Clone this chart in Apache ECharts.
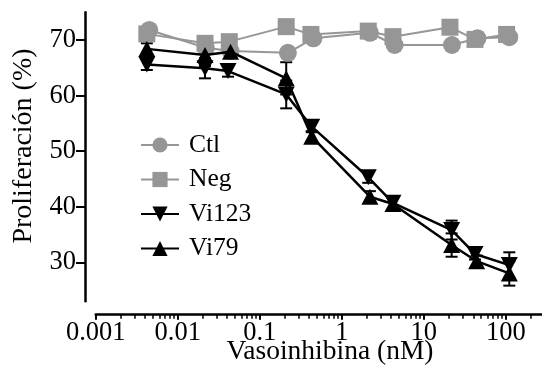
<!DOCTYPE html>
<html><head><meta charset="utf-8">
<script src="https://cdn.jsdelivr.net/npm/echarts@6/dist/echarts.min.js"></script>
<style>html,body{margin:0;padding:0;background:#fff}#c{width:542px;height:377px}</style>
</head><body><div id="c"></div>
<script>
const seriesNames = ['Ctl', 'Neg', 'Vi123', 'Vi79'];
const ctlConc = [0.0045, 0.022, 0.044, 0.22, 0.45, 2.2, 4.4, 22, 45, 110];
const ctlValues = [71.8, 68.6, 68.0, 67.7, 70.3, 71.3, 69.1, 69.1, 70.3, 70.5];
const negConc = [0.0042, 0.0215, 0.0425, 0.21, 0.42, 2.1, 4.2, 20.8, 42, 102];
const negValues = [71.1, 69.4, 69.7, 72.4, 71.0, 71.6, 70.6, 72.3, 70.1, 71.0];
const vi123Conc = [0.0042, 0.0215, 0.041, 0.21, 0.43, 2.1, 4.2, 21.8, 42, 110];
const vi123Values = [65.6, 64.9, 64.4, 60.2, 54.4, 45.3, 40.7, 35.8, 31.5, 29.5];
const vi123Err = [1.0, 1.8, 1.0, 2.5, 1.0, 1.0, 1.0, 1.7, 1.0, 2.3];
const vi79Conc = [0.0042, 0.0215, 0.044, 0.21, 0.43, 2.2, 4.2, 21.8, 44, 110];
const vi79Values = [68.4, 67.3, 67.9, 63.1, 52.6, 41.8, 40.5, 33.1, 30.2, 28.0];
const vi79Err = [1.0, 2.0, 1.0, 2.9, 1.0, 1.0, 1.0, 2.1, 1.0, 2.2];
const xTickValues = [0.001, 0.01, 0.1, 1, 10, 100];
const xTickLabels = ['0.001', '0.01', '0.1', '1', '10', '100'];
const yTickValues = [30, 40, 50, 60, 70];
const xTitle = 'Vasoinhibina (nM)';
const yTitle = 'Proliferación (%)';

const FONT = 'Liberation Serif';
const GRAY = '#969696';
const X_MIN = -3, X_MAX = 2.44, Y_MIN = 23, Y_MAX = 75;

const lg = v => Math.log10(v);
const pts = (xs, ys) => xs.map((x, i) => [lg(x), ys[i]]);
const errPts = (xs, ys, es) => xs.map((x, i) => [lg(x), ys[i], es[i]]);

const minorTicks = [];
xTickValues.forEach(d => { for (let m = 2; m <= 9; m++) { const v = lg(d * m); if (v <= X_MAX) minorTicks.push(v); } });
const majorTicks = xTickValues.map(lg);

function errorItem(params, api) {
  const x = api.value(0), y = api.value(1), e = api.value(2);
  const top = api.coord([x, y + e]);
  const bot = api.coord([x, y - e]);
  const hw = 6;
  const st = { stroke: '#000', lineWidth: 2 };
  return { type: 'group', children: [
    { type: 'line', shape: { x1: top[0], y1: top[1], x2: bot[0], y2: bot[1] }, style: st },
    { type: 'line', shape: { x1: top[0] - hw, y1: top[1], x2: top[0] + hw, y2: top[1] }, style: st },
    { type: 'line', shape: { x1: bot[0] - hw, y1: bot[1], x2: bot[0] + hw, y2: bot[1] }, style: st }
  ]};
}

const chart = echarts.init(document.getElementById('c'), null, { renderer: 'canvas' });
const labelStyle = { fontFamily: FONT, fontSize: 26.5, color: '#000' };
chart.setOption({
  animation: false,
  backgroundColor: '#fff',
  textStyle: { fontFamily: FONT },
  grid: { left: 95.7, right: 0, top: 12.2, bottom: 75.8, containLabel: false },
  legend: {
    data: seriesNames,
    orient: 'vertical',
    left: 140, top: 132, padding: 0,
    itemWidth: 38, itemHeight: 19, itemGap: 8.5,
    textStyle: { fontFamily: FONT, fontSize: 25.5, color: '#000', padding: [0, 0, 0, 5] }
  },
  graphic: [
    { type: 'text', x: 24, y: 146, rotation: Math.PI / 2, silent: true,
      style: { text: yTitle, fontFamily: FONT, fontSize: 28, fill: '#000', align: 'center', verticalAlign: 'middle' } },
    { type: 'text', x: 330, y: 352, silent: true,
      style: { text: xTitle, fontFamily: FONT, fontSize: 27.5, fill: '#000', align: 'center', verticalAlign: 'middle' } }
  ],
  xAxis: [{
    type: 'value', min: X_MIN, max: X_MAX, position: 'bottom', offset: 13.5,
    axisLine: { onZero: false, lineStyle: { color: '#000', width: 2.5 } },
    axisTick: { show: true, inside: false, length: 5, customValues: majorTicks, lineStyle: { color: '#000', width: 2 } },
    axisLabel: { customValues: majorTicks, margin: 5, ...labelStyle,
      formatter: v => { const i = majorTicks.findIndex(t => Math.abs(t - v) < 1e-6); return i >= 0 ? xTickLabels[i] : ''; } },
    splitLine: { show: false }
  }, {
    type: 'value', min: X_MIN, max: X_MAX, position: 'bottom', offset: 13.5,
    axisLine: { show: false, onZero: false },
    axisTick: { show: true, inside: false, length: 4, customValues: minorTicks, lineStyle: { color: '#000', width: 1.5 } },
    axisLabel: { show: false },
    splitLine: { show: false }
  }],
  yAxis: {
    type: 'value', min: Y_MIN, max: Y_MAX, offset: 10.7,
    axisLine: { show: true, onZero: false, lineStyle: { color: '#000', width: 2.5 } },
    axisTick: { show: true, length: 9, customValues: yTickValues, lineStyle: { color: '#000', width: 2 } },
    axisLabel: { customValues: yTickValues, margin: 9, ...labelStyle },
    splitLine: { show: false }
  },
  series: [
    { type: 'custom', name: 'err123', renderItem: errorItem, data: errPts(vi123Conc, vi123Values, vi123Err), z: 1, silent: true },
    { type: 'custom', name: 'err79', renderItem: errorItem, data: errPts(vi79Conc, vi79Values, vi79Err), z: 1, silent: true },
    { type: 'line', name: 'Ctl', data: pts(ctlConc, ctlValues), symbol: 'circle', symbolSize: 18,
      itemStyle: { color: GRAY }, lineStyle: { color: GRAY, width: 2 }, z: 2 },
    { type: 'line', name: 'Neg', data: pts(negConc, negValues), symbol: 'rect', symbolSize: 17,
      itemStyle: { color: GRAY }, lineStyle: { color: GRAY, width: 2 }, z: 2 },
    { type: 'line', name: 'Vi123', data: pts(vi123Conc, vi123Values), symbol: 'triangle', symbolRotate: 180, symbolSize: [17, 16],
      itemStyle: { color: '#000' }, lineStyle: { color: '#000', width: 2.5 }, z: 3 },
    { type: 'line', name: 'Vi79', data: pts(vi79Conc, vi79Values), symbol: 'triangle', symbolSize: [17, 16],
      itemStyle: { color: '#000' }, lineStyle: { color: '#000', width: 2.5 }, z: 3 }
  ]
});
</script></body></html>
